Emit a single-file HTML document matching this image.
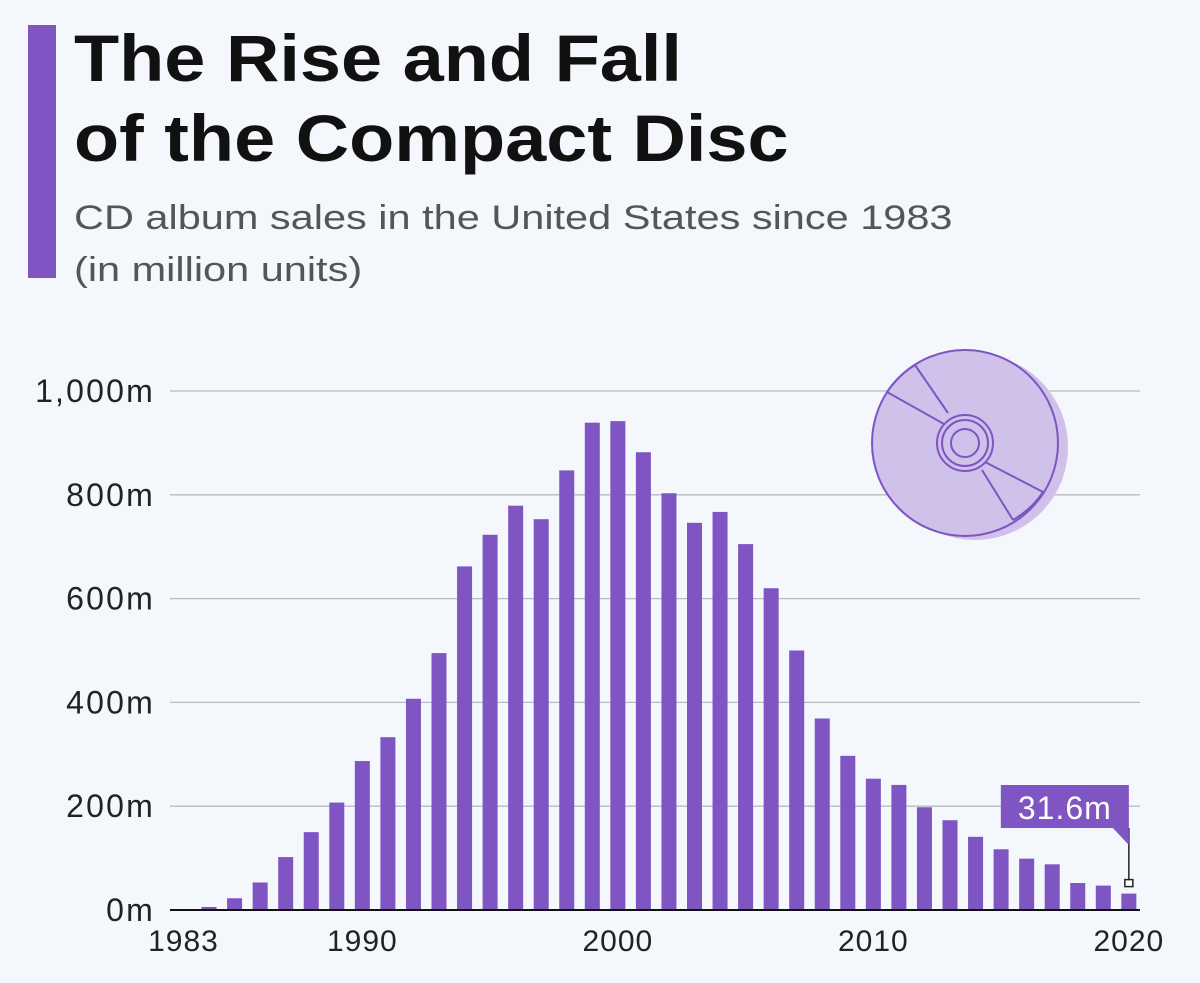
<!DOCTYPE html>
<html><head><meta charset="utf-8"><style>
body{margin:0;background:#f4f7fb;font-family:"Liberation Sans",sans-serif;}
#wrap{position:relative;width:1200px;height:983px;overflow:hidden;background:#f4f7fb;}
</style></head><body>
<div id="wrap">
<div style="position:absolute;left:28px;top:25px;width:28px;height:253px;background:#7e55c3"></div>
<div style="position:absolute;left:74px;top:18px;font-size:66px;font-weight:bold;line-height:80px;color:#111;transform:scaleX(1.12);transform-origin:0 0;white-space:nowrap">The Rise and Fall<br>of the Compact Disc</div>
<div style="position:absolute;left:74px;top:192px;font-size:34px;line-height:52px;color:#555;transform:scaleX(1.22);transform-origin:0 0;white-space:nowrap">CD album sales in the United States since 1983<br>(in million units)</div>
<svg id="chart" width="1200" height="983" style="position:absolute;left:0;top:0"></svg>
</div>
<script>
const years=[1983,1984,1985,1986,1987,1988,1989,1990,1991,1992,1993,1994,1995,1996,1997,1998,1999,2000,2001,2002,2003,2004,2005,2006,2007,2008,2009,2010,2011,2012,2013,2014,2015,2016,2017,2018,2019,2020];
const sales=[0.8,5.8,22.6,53,102,150,207,287,333,407,495,662,723,779,753,847,939,942,882,803,746,767,705,620,500,369,297,253,241,198,173,141,117,99,88,52,47,31.6];
const yTicks=[0,200,400,600,800,1000];
const yTickLabels=["0m","200m","400m","600m","800m","1,000m"];
const xTickYears=[1983,1990,2000,2010,2020];
const NS="http://www.w3.org/2000/svg";
const svg=document.getElementById('chart');
const y0=910,pxPer=0.519;
const yS=v=>y0-v*pxPer;
const xS=yr=>183.5+(yr-1983)*25.55;
function mk(t,a,p){const e=document.createElementNS(NS,t);for(const k in a)e.setAttribute(k,a[k]);(p||svg).appendChild(e);return e;}
yTicks.forEach((t,i)=>{
 if(t>0){const l=mk('line',{x1:170,x2:1140,y1:yS(t),y2:yS(t),stroke:'#b8bcc2','stroke-width':1.3});
 
 }
 const tx=mk('text',{x:155,y:yS(t)+11,'text-anchor':'end','font-size':32,'letter-spacing':2.2,fill:'#222','font-family':'Liberation Sans, sans-serif'});
 tx.textContent=yTickLabels[i];
 
 
});
const g=mk('g',{});


mk('circle',{cx:975,cy:447,r:93,fill:'#cfc1ea'},g);
mk('circle',{cx:965,cy:443,r:93,fill:'#cfc1ea',stroke:'#7e55c3','stroke-width':2},g);
mk('path',{d:'M887,392 L944,424 M915,365 L948,413 M985,462 L1043,492 M982,470 L1013,520',stroke:'#7e55c3','stroke-width':2,fill:'none'},g);
mk('path',{d:'M887,392 A90,90 0 0 1 915,365 M1043,492 A90,90 0 0 1 1013,520',stroke:'#7e55c3','stroke-width':2,fill:'none'},g);
[28,23,14].forEach(r=>mk('circle',{cx:965,cy:443,r:r,fill:'none',stroke:'#7e55c3','stroke-width':2},g));
years.forEach((yr,i)=>{
 const b=mk('rect',{x:xS(yr)-7.5,y:yS(sales[i]),width:15,height:sales[i]*pxPer,fill:'#7e55c3'});
 
 
});
const ax=mk('line',{x1:170,x2:1140,y1:y0,y2:y0,stroke:'#111','stroke-width':2});


xTickYears.forEach(yr=>{
 const tx=mk('text',{x:xS(yr),y:951,'text-anchor':'middle','font-size':30,'letter-spacing':1,fill:'#222','font-family':'Liberation Sans, sans-serif'});
 tx.textContent=yr;
 
 
});
const last=years.length-1,ax2=xS(years[last]);
const an=mk('g',{});


mk('line',{x1:ax2,x2:ax2,y1:828,y2:yS(sales[last])-14,stroke:'#222','stroke-width':1.5},an);
mk('rect',{x:ax2-4,y:yS(sales[last])-14,width:8,height:7,fill:'#fff',stroke:'#222','stroke-width':1.5},an);
mk('path',{d:`M${ax2-128},785 L${ax2},785 L${ax2},845 L${ax2-16},828 L${ax2-128},828 Z`,fill:'#7e55c3'},an);
const at=mk('text',{x:ax2-64,y:819,'text-anchor':'middle','font-size':32,'letter-spacing':1,fill:'#fff','font-family':'Liberation Sans, sans-serif'},an);
at.textContent=sales[last]+'m';
</script>
</body></html>
